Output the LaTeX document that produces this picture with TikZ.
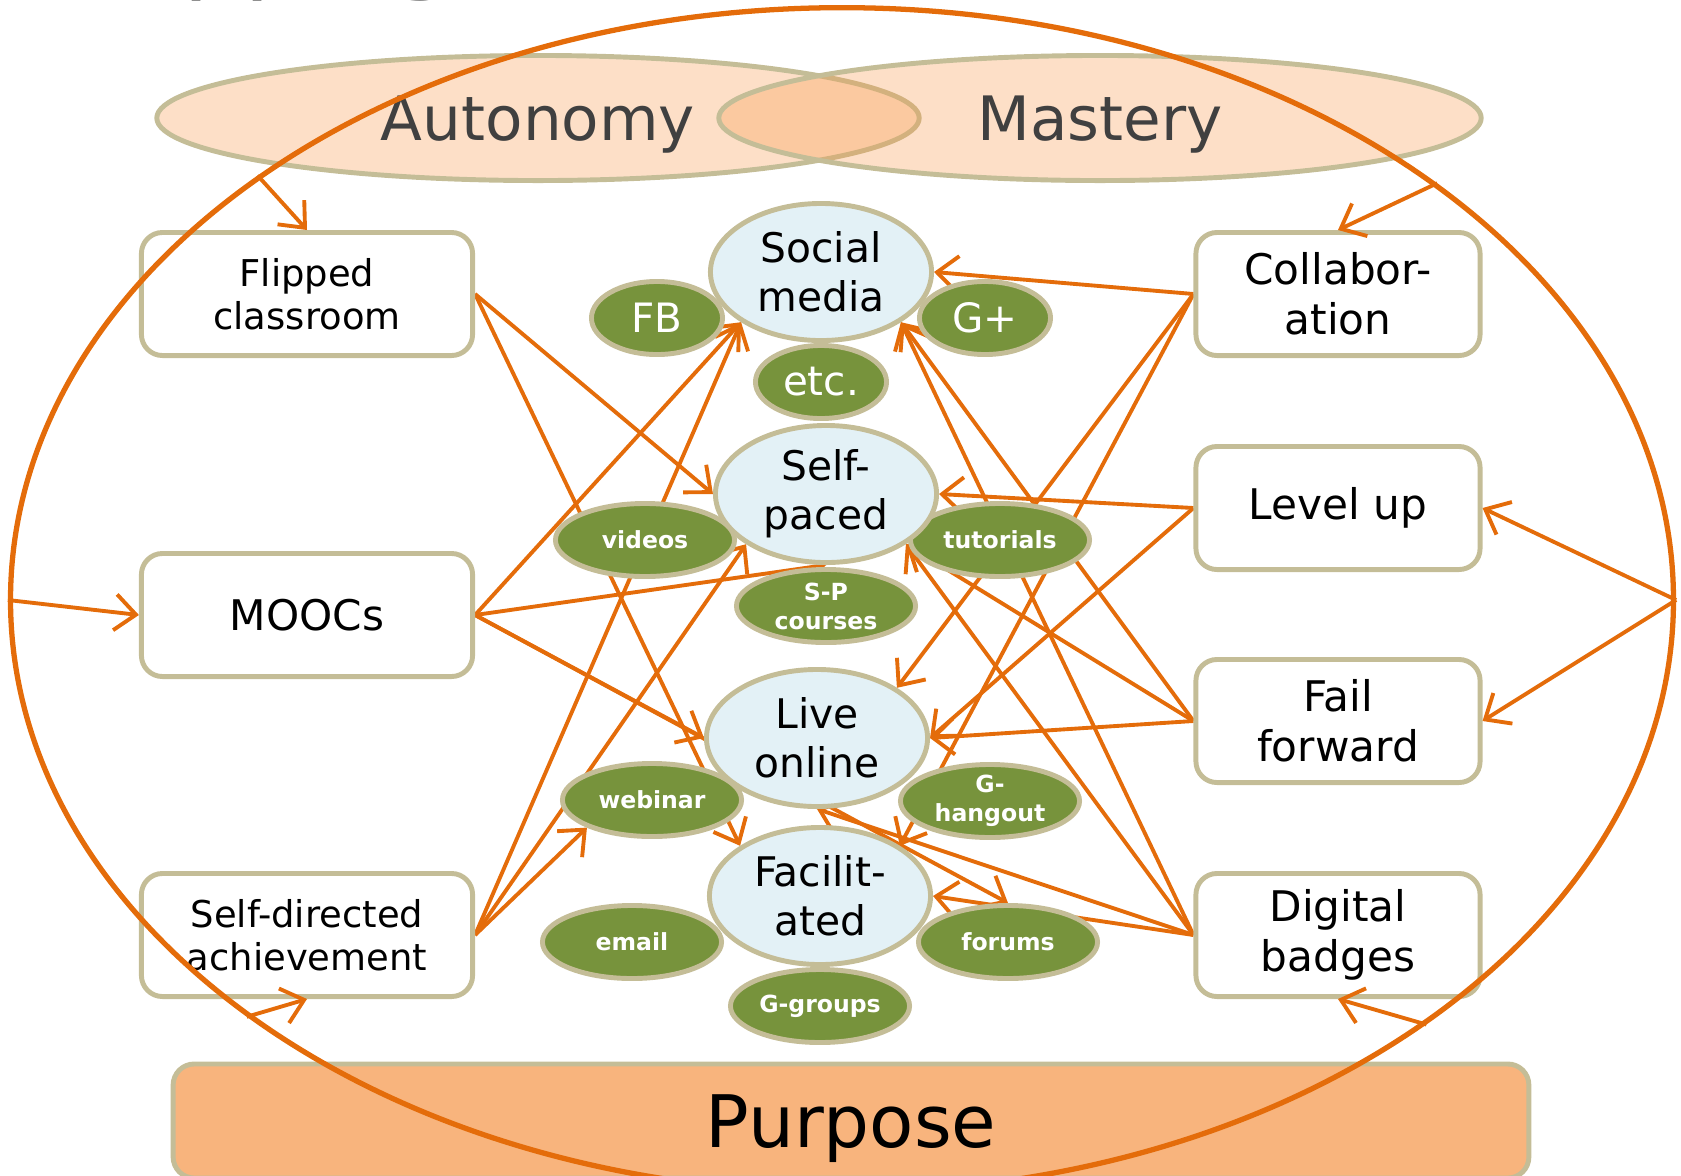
\documentclass[tikz,border=0pt]{standalone}
\usepackage{fontspec}
\setmainfont{DejaVu Sans}
\usetikzlibrary{shapes.geometric,arrows.meta,backgrounds}
\definecolor{sand}{HTML}{C4BD97}
\definecolor{rust}{HTML}{E46C0A}
\definecolor{peach}{HTML}{F79646}
\definecolor{apricot}{HTML}{F8B47D}
\definecolor{ice}{HTML}{E3F1F6}
\definecolor{olive}{HTML}{77933C}
\definecolor{slate}{HTML}{404040}
\definecolor{mist}{HTML}{8C8C8C}
\tikzset{>={Straight Barb[length=2.1mm,width=3.6mm]},
  lbox/.style={draw=sand, line width=1.4pt, rounded corners=6pt, fill=white, align=center,
    minimum width=3.31cm, minimum height=1.23cm, inner sep=0pt, font=\fontsize{10.5}{12.3}\selectfont},
  rbox/.style={lbox, minimum width=2.84cm, font=\fontsize{12}{14.1}\selectfont},
  hub/.style={ellipse, draw=sand, line width=1.4pt, fill=ice, inner sep=0pt, align=center,
    minimum width=2.21cm, minimum height=1.37cm, font=\fontsize{11.6}{14}\selectfont},
  tool/.style={ellipse, draw=sand, line width=1.4pt, fill=olive, text=white, inner sep=0pt, align=center,
    minimum width=1.79cm, minimum height=0.73cm, font=\bfseries\fontsize{6.7}{8.2}\selectfont},
  site/.style={tool, minimum width=1.31cm, font=\fontsize{11.5}{14}\selectfont},
  drive/.style={ellipse, draw=sand, line width=1.4pt, fill=peach, fill opacity=0.3, text opacity=1,
    text=slate, text depth=0pt, minimum width=7.62cm, minimum height=1.25cm, font=\fontsize{17.4}{20}\selectfont},
  link/.style={->, draw=rust, line width=1.1pt}}

\begin{document}
\begin{tikzpicture}[x=0.01cm, y=-0.01cm]
\useasboundingbox (0,0) rectangle (1681,1175);
\node[anchor=base west, inner sep=0pt, text=mist, font=\fontsize{27.3}{30}\selectfont] (title) at (41,-19) {Mapping};
\node[draw=sand, line width=1.4pt, fill=apricot, rounded corners=6pt, minimum width=13.55cm, minimum height=1.14cm,
  text depth=0pt, font=\fontsize{20.6}{24}\selectfont] (purpose) at (851,1121) {Purpose};
\node[drive] (aut) at (538,118) {Autonomy};
\node[drive] (mas) at (1100,118) {Mastery};

\node[lbox] (fc) at (307,294) {Flipped\\classroom};
\node[lbox, font=\fontsize{12}{14}\selectfont] (mooc) at (307,615) {MOOCs};
\node[lbox] (sd) at (307,935) {Self-directed\\achievement};
\node[rbox] (col) at (1338,294) {Collabor-\\ation};
\node[rbox] (lvl) at (1338,508) {Level up};
\node[rbox] (ff) at (1338,721) {Fail\\forward};
\node[rbox] (db) at (1338,935) {Digital\\badges};

\node[site] (fb) at (657,318) {FB};
\node[site] (gp) at (985,318) {G+};
\node[site] (etc) at (821,382) {etc.};
\node[tool] (vid) at (645,540) {videos};
\node[tool] (tut) at (1000,540) {tutorials};
\node[tool] (spc) at (826,606) {S-P\\courses};
\node[tool] (web) at (652,800) {webinar};
\node[tool] (gh) at (990,801) {G-\\hangout};
\node[tool] (em) at (632,942) {email};
\node[tool] (fo) at (1008,942) {forums};
\node[tool] (gg) at (820,1006) {G-groups};

\node[hub] (sm) at (821,272) {Social\\media};
\node[hub] (sp) at (826,494) {Self-\\paced};
\node[hub] (lo) at (817,738) {Live\\online};
\node[hub] (fa) at (820,896) {Facilit-\\ated};

\begin{scope}[on background layer]
\foreach \src/\dst in {fc/sp.west, fc/fa.north west, mooc/sm.south west, mooc/sp.south, mooc/lo.west, mooc/fo.north,
  sd/sm.south west, sd/sp.south west, sd/web.south west}
  \draw[link] (\src.east) -- (\dst);
\foreach \src/\dst in {col/sm.east, col/lo.north east, col/fa.north east, lvl/sp.east, lvl/lo.east, ff/lo.east,
  ff/sp.south east, ff/sm.south east, db/sm.south east, db/sp.south east, db/lo.south, db/fa.east}
  \draw[link] (\src.west) -- (\dst);
\end{scope}

\node[ellipse, draw=rust, line width=1.5pt, inner sep=0pt, minimum width=16.62cm, minimum height=11.84cm] (frame) at (842,600) {};
\foreach \ang/\dst in {144.4/fc.north, 35.4/col.north, 180/mooc.west, 215.5/sd.south, 324.6/db.south, 0/lvl.east, 0/ff.east}
  \draw[link] (frame.\ang) -- (\dst);
\end{tikzpicture}
\end{document}
